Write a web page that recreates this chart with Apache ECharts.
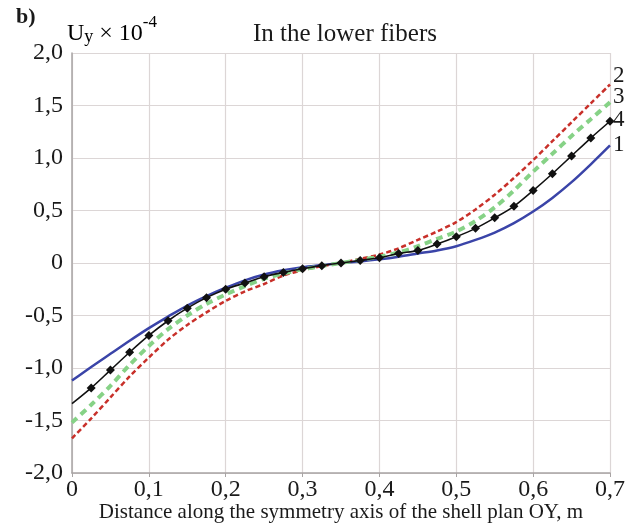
<!DOCTYPE html>
<html>
<head>
<meta charset="utf-8">
<script src="https://cdn.jsdelivr.net/npm/echarts@6/dist/echarts.min.js"></script>
<style>
html,body{margin:0;padding:0;background:#fff;}
#c{width:634px;height:528px;}
</style>
</head>
<body>
<div id="c"></div>
<script>
// ---- data ----
const xs = [0, 0.025, 0.05, 0.075, 0.1, 0.125, 0.15, 0.175, 0.2, 0.225, 0.25, 0.275, 0.3, 0.325, 0.35,
            0.375, 0.4, 0.425, 0.45, 0.475, 0.5, 0.525, 0.55, 0.575, 0.6, 0.625, 0.65, 0.675, 0.7];
const curve1 = [-1.12, -0.99, -0.865, -0.74, -0.62, -0.51, -0.405, -0.315, -0.235, -0.165, -0.11, -0.07, -0.04, -0.02, 0,
                0.015, 0.035, 0.06, 0.09, 0.12, 0.16, 0.22, 0.29, 0.38, 0.49, 0.62, 0.77, 0.94, 1.12];
const curve2 = [-1.67, -1.48, -1.28, -1.08, -0.90, -0.73, -0.59, -0.47, -0.36, -0.27, -0.20, -0.12, -0.07, -0.03, 0,
                0.04, 0.08, 0.14, 0.22, 0.30, 0.39, 0.51, 0.65, 0.81, 0.98, 1.16, 1.34, 1.52, 1.70];
const curve3 = [-1.52, -1.35, -1.17, -0.97, -0.79, -0.63, -0.50, -0.39, -0.30, -0.22, -0.15, -0.10, -0.06, -0.03, 0,
                0.03, 0.06, 0.10, 0.16, 0.23, 0.30, 0.40, 0.53, 0.69, 0.87, 1.04, 1.21, 1.37, 1.53];
const curve4 = [-1.34, -1.19, -1.02, -0.85, -0.69, -0.55, -0.43, -0.33, -0.25, -0.19, -0.13, -0.09, -0.055, -0.025, 0,
                0.025, 0.05, 0.09, 0.12, 0.18, 0.25, 0.33, 0.43, 0.54, 0.69, 0.85, 1.02, 1.19, 1.35];
const seriesNames = ['1', '2', '3', '4'];
const xTicks = [0, 0.1, 0.2, 0.3, 0.4, 0.5, 0.6, 0.7];
const yTicks = [-2, -1.5, -1, -0.5, 0, 0.5, 1, 1.5, 2];
const titleText = 'In the lower fibers';
const xAxisTitle = 'Distance along the symmetry axis of the shell plan OY, m';
const panelTag = 'b)';

// ---- build ----
const SERIF = "'Liberation Serif','Times New Roman',serif";
const INK = '#1a1a1a';
function pairs(ys) { return xs.map((x, i) => [x, ys[i]]); }
function fmt(v) {
  if (Math.abs(v) < 1e-9) return '0';
  return v.toFixed(1).replace('.', ',');
}
function endLabel(offset) {
  return {
    show: true, formatter: '{a}', color: INK, fontSize: 23,
    fontFamily: SERIF, distance: 3, offset: offset
  };
}

const chart = echarts.init(document.getElementById('c'), null, { renderer: 'canvas' });
chart.setOption({
  animation: false,
  backgroundColor: '#ffffff',
  grid: { left: 72, right: 24, top: 53, bottom: 55, containLabel: false, outerBoundsMode: 'none' },
  xAxis: {
    type: 'value', min: xTicks[0], max: xTicks[xTicks.length - 1], interval: 0.1,
    axisLine: { show: true, onZero: false, lineStyle: { color: '#a8a4a4', width: 1.5 } },
    axisTick: { show: true, length: 4, lineStyle: { color: '#a8a4a4' } },
    splitLine: { show: true, lineStyle: { color: '#dcd6d6', width: 1.2 } },
    axisLabel: { formatter: fmt, color: INK, fontSize: 24, fontFamily: SERIF, margin: 5 },
    name: xAxisTitle, nameLocation: 'middle', nameGap: 29, nameMoveOverlap: false,
    nameTextStyle: { color: INK, fontSize: 21, fontFamily: SERIF, verticalAlign: 'top' }
  },
  yAxis: {
    type: 'value', min: yTicks[0], max: yTicks[yTicks.length - 1], interval: 0.5,
    axisLine: { show: true, onZero: false, lineStyle: { color: '#a8a4a4', width: 1.5 } },
    axisTick: { show: false },
    splitLine: { show: true, lineStyle: { color: '#dcd6d6', width: 1.2 } },
    axisLabel: { formatter: fmt, color: INK, fontSize: 24, fontFamily: SERIF, margin: 9 }
  },
  graphic: [
    { type: 'text', left: 16, top: 6, style: { text: panelTag, font: "bold 22px 'Liberation Serif', serif", fill: INK } },
    { type: 'text', left: 67, top: 14, style: {
        text: '{u|U}{s|y}{m| × 10}{p|-4}',
        rich: {
          u: { fontSize: 24, fontFamily: SERIF, color: INK, verticalAlign: 'bottom', lineHeight: 32 },
          s: { fontSize: 18, fontFamily: SERIF, color: INK, verticalAlign: 'bottom', lineHeight: 26 },
          m: { fontSize: 24, fontFamily: SERIF, color: INK, verticalAlign: 'bottom', lineHeight: 32 },
          p: { fontSize: 17, fontFamily: SERIF, color: INK, verticalAlign: 'top', lineHeight: 32 }
        }
      } },
    { type: 'text', left: 253, top: 22, style: { text: titleText, font: "25px 'Liberation Serif', serif", fill: INK } }
  ],
  series: [
    {
      name: seriesNames[0], type: 'line', data: pairs(curve1), showSymbol: false, smooth: 0.3,
      lineStyle: { color: '#3a44a8', width: 2.5 }, itemStyle: { color: '#3a44a8' },
      endLabel: endLabel([0, 0]), z: 2
    },
    {
      name: seriesNames[1], type: 'line', data: pairs(curve2), showSymbol: false, smooth: 0.3,
      lineStyle: { color: '#c8302a', width: 2.5, type: [5, 3] }, itemStyle: { color: '#c8302a' },
      endLabel: endLabel([0, -9]), z: 3
    },
    {
      name: seriesNames[2], type: 'line', data: pairs(curve3), showSymbol: false, smooth: 0.3,
      lineStyle: { color: '#86d286', width: 4, type: [7, 5] }, itemStyle: { color: '#86d286' },
      endLabel: endLabel([0, -5]), z: 3
    },
    {
      name: seriesNames[3], type: 'line', smooth: 0.3,
      data: pairs(curve4).map((p, i) => i === 0 ? { value: p, symbol: 'none' } : { value: p }),
      symbol: 'diamond', symbolSize: 9, showSymbol: true,
      lineStyle: { color: '#111111', width: 1.6 }, itemStyle: { color: '#111111' },
      endLabel: endLabel([0, -1]), z: 4
    }
  ]
});
</script>
</body>
</html>
